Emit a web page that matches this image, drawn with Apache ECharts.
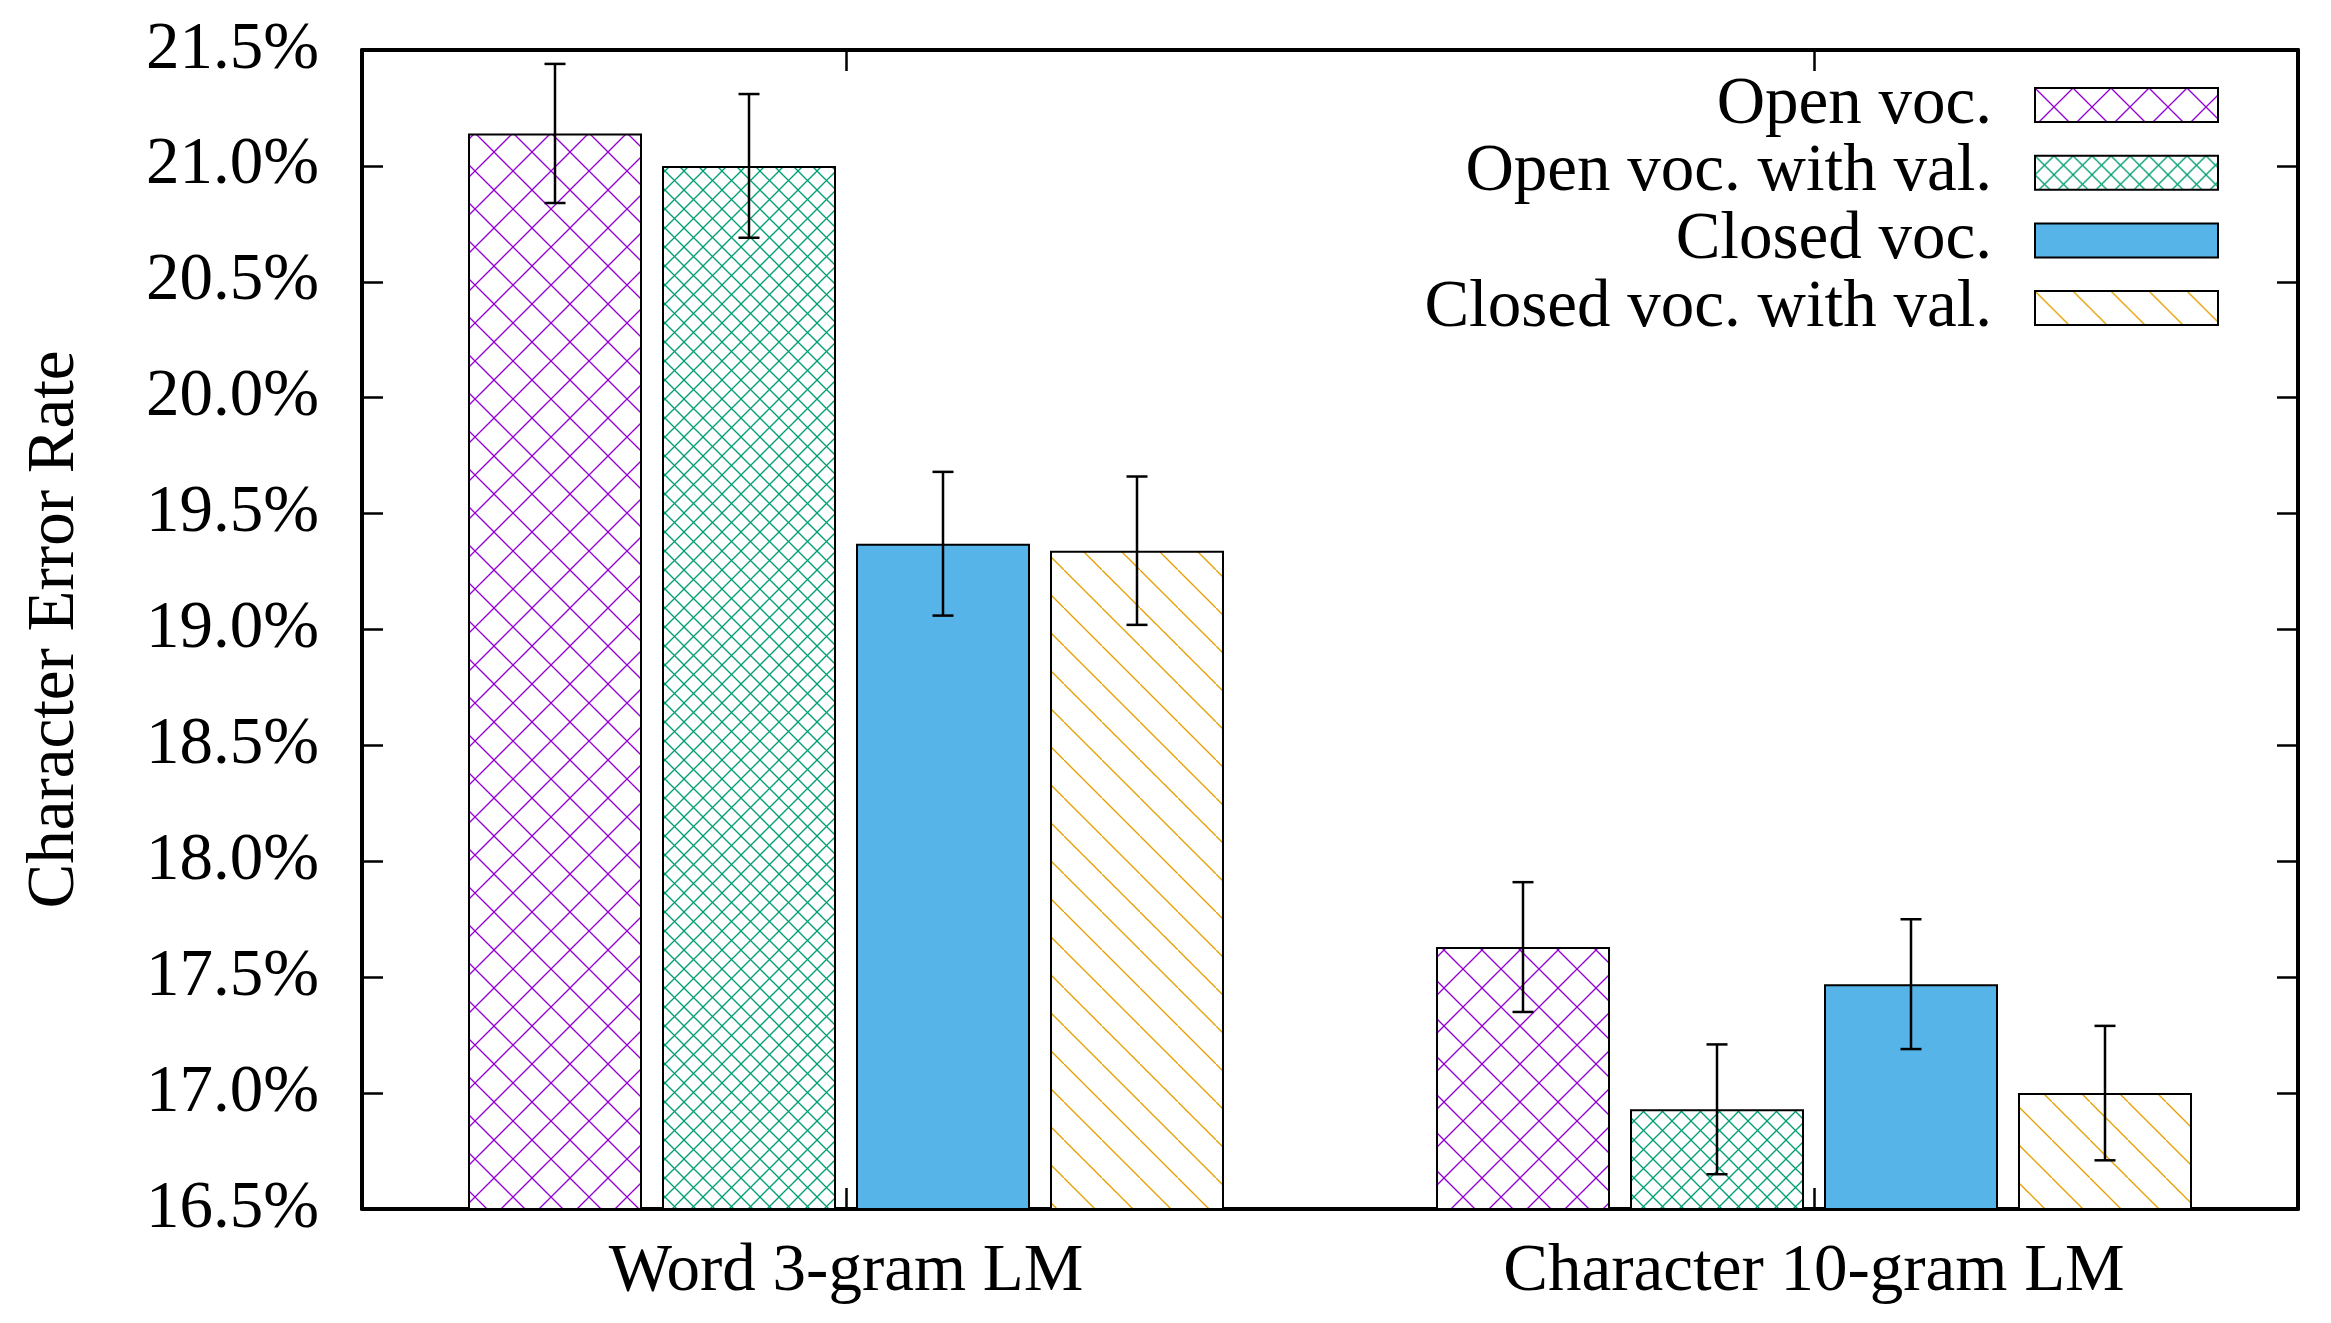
<!DOCTYPE html>
<html>
<head>
<meta charset="utf-8">
<script src="https://cdn.jsdelivr.net/npm/echarts@6/dist/echarts.min.js"></script>
<style>
html,body{margin:0;padding:0;background:#fff;}
#chart{width:2331px;height:1323px;}
</style>
</head>
<body>
<div id="chart"></div>
<script>
// ---- data ----
const categories = ['Word 3-gram LM', 'Character 10-gram LM'];
const seriesNames = ['Open voc.', 'Open voc. with val.', 'Closed voc.', 'Closed voc. with val.'];
const openVoc = [21.14, 17.63];
const openVocErr = [0.30, 0.28];
const openVocVal = [21.00, 16.93];
const openVocValErr = [0.31, 0.28];
const closedVoc = [19.37, 17.47];
const closedVocErr = [0.31, 0.28];
const closedVocVal = [19.34, 17.00];
const closedVocValErr = [0.32, 0.29];
const yTicks = [16.5, 21.5, 0.5]; // min, max, step

// ---- styling ----
const FONT = 'Liberation Serif';
const FS = 67;
const BAR_W = 174;
const BAR_GAP = 20;

function makePattern(color, period, dirs) {
  const c = document.createElement('canvas');
  c.width = period; c.height = period;
  const ctx = c.getContext('2d');
  ctx.fillStyle = '#fff';
  ctx.fillRect(0, 0, period, period);
  ctx.strokeStyle = color;
  ctx.lineWidth = 1.3;
  dirs.forEach(d => {
    ctx.beginPath();
    if (d === '\\') { ctx.moveTo(-2, -2); ctx.lineTo(period + 2, period + 2); }
    else { ctx.moveTo(-2, period + 2); ctx.lineTo(period + 2, -2); }
    ctx.stroke();
  });
  return { image: c, repeat: 'repeat' };
}

const fills = [
  makePattern('#9400D3', 38, ['\\', '/']),
  makePattern('#009E73', 19, ['\\', '/']),
  '#56B4E9',
  makePattern('#E69F00', 38, ['\\'])
];

const values = [openVoc, openVocVal, closedVoc, closedVocVal];
const errors = [openVocErr, openVocValErr, closedVocErr, closedVocValErr];

const barSeries = seriesNames.map((name, i) => ({
  name: name,
  type: 'bar',
  barWidth: BAR_W,
  barGap: (BAR_GAP / BAR_W * 100).toFixed(2) + '%',
  data: values[i],
  itemStyle: { color: fills[i], borderColor: '#000', borderWidth: 2 },
  z: 2
}));

const errSeries = seriesNames.map((name, i) => ({
  type: 'custom',
  name: 'err' + i,
  z: 5,
  data: values[i].map((v, k) => [k, v - errors[i][k], v + errors[i][k]]),
  renderItem: function (params, api) {
    const off = (i - 1.5) * (BAR_W + BAR_GAP);
    const lo = api.coord([api.value(0), api.value(1)]);
    const hi = api.coord([api.value(0), api.value(2)]);
    const x = lo[0] + off;
    const cap = 10.5;
    const st = { stroke: '#000', lineWidth: 2.5 };
    return {
      type: 'group',
      children: [
        { type: 'line', shape: { x1: x, y1: lo[1], x2: x, y2: hi[1] }, style: st },
        { type: 'line', shape: { x1: x - cap, y1: lo[1], x2: x + cap, y2: lo[1] }, style: st },
        { type: 'line', shape: { x1: x - cap, y1: hi[1], x2: x + cap, y2: hi[1] }, style: st }
      ]
    };
  }
}));

const chart = echarts.init(document.getElementById('chart'), null, { renderer: 'canvas' });
const axisLineStyle = { color: '#000', width: 4 };
const tickStyle = { color: '#000', width: 2.5 };

chart.setOption({
  animation: false,
  backgroundColor: '#fff',
  textStyle: { fontFamily: FONT },
  grid: { left: 362, right: 33, top: 50, bottom: 114, containLabel: false },
  legend: {
    data: seriesNames,
    orient: 'vertical',
    align: 'right',
    right: 112,
    top: 71.5,
    padding: 0,
    itemWidth: 183,
    itemHeight: 34,
    itemGap: 0.7,
    icon: 'rect',
    selectedMode: false,
    itemStyle: { borderColor: '#000', borderWidth: 2 },
    textStyle: { fontFamily: FONT, fontSize: FS, color: '#000', padding: [0, 38, 0, 0] }
  },
  xAxis: [
    {
      type: 'category',
      data: categories,
      position: 'bottom',
      axisLine: { show: true, lineStyle: axisLineStyle },
      axisTick: { show: true, inside: true, alignWithLabel: true, length: 21, lineStyle: tickStyle },
      axisLabel: { fontFamily: FONT, fontSize: FS, color: '#000', margin: 30 },
      splitLine: { show: false }
    },
    {
      type: 'category',
      data: categories,
      position: 'top',
      axisLine: { show: true, lineStyle: axisLineStyle },
      axisTick: { show: true, inside: true, alignWithLabel: true, length: 21, lineStyle: tickStyle },
      axisLabel: { show: false },
      splitLine: { show: false }
    }
  ],
  yAxis: [
    {
      type: 'value',
      min: yTicks[0], max: yTicks[1], interval: yTicks[2],
      position: 'left',
      name: 'Character Error Rate',
      nameLocation: 'middle',
      nameRotate: 90,
      nameGap: 273,
      nameTextStyle: { fontFamily: FONT, fontSize: FS, color: '#000' },
      axisLine: { show: true, lineStyle: axisLineStyle },
      axisTick: { show: true, inside: true, length: 21, lineStyle: tickStyle },
      axisLabel: { fontFamily: FONT, fontSize: FS, color: '#000', margin: 43,
        formatter: v => v.toFixed(1) + '%' },
      splitLine: { show: false }
    },
    {
      type: 'value',
      min: yTicks[0], max: yTicks[1], interval: yTicks[2],
      position: 'right',
      axisLine: { show: true, lineStyle: axisLineStyle },
      axisTick: { show: true, inside: true, length: 21, lineStyle: tickStyle },
      axisLabel: { show: false },
      splitLine: { show: false }
    }
  ],
  series: barSeries.concat(errSeries)
});
</script>
</body>
</html>
